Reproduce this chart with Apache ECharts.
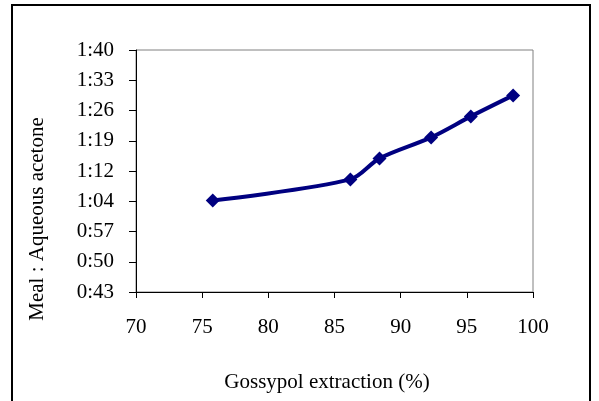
<!DOCTYPE html>
<html>
<head>
    <meta charset="utf-8">
    <title>Meal : Aqueous acetone</title>
    <script src="https://cdn.jsdelivr.net/npm/echarts@6/dist/echarts.min.js"></script>
</head>
<body style="margin:0">
    <div id="main" style="width:599px; height:401px"></div>
    <script type="text/javascript">
        // gossypol extraction (%) vs ratio, ratio stored as minutes (Excel time 1:05 = 65)
        var extraction = [75.8, 86.2, 88.4, 92.3, 95.3, 98.5];
        var ratioMinutes = [65, 70, 75, 80, 85, 90];
        var yTickLabels = ['0:43', '0:50', '0:57', '1:04', '1:12', '1:19', '1:26', '1:33', '1:40'];
        var xTickLabels = [70, 75, 80, 85, 90, 95, 100];

        var yMin = 43.2, yStep = 7.2;
        var font = '"Liberation Serif", "Times New Roman", serif';

        var points = extraction.map(function (x, i) { return [x, ratioMinutes[i]]; });

        var myChart = echarts.init(document.getElementById('main'));

        var option = {
            animation: false,
            backgroundColor: '#fff',
            grid: {
                left: 136,
                right: 66,
                top: 50,
                bottom: 109,
                show: true,
                borderColor: '#808080',
                borderWidth: 1
            },
            xAxis: {
                type: 'value',
                min: xTickLabels[0],
                max: xTickLabels[xTickLabels.length - 1],
                interval: 5,
                axisLine: { lineStyle: { color: '#000', width: 1 } },
                axisTick: { show: true, length: 6, lineStyle: { color: '#000' } },
                axisLabel: { color: '#000', fontFamily: font, fontSize: 21, margin: 25 },
                splitLine: { show: false }
            },
            yAxis: {
                type: 'value',
                min: yMin,
                max: yMin + yStep * (yTickLabels.length - 1),
                interval: yStep,
                axisLine: { show: true, lineStyle: { color: '#000', width: 1 } },
                axisTick: { show: true, length: 7, lineStyle: { color: '#000' } },
                axisLabel: {
                    color: '#000', fontFamily: font, fontSize: 21, margin: 22,
                    formatter: function (v) {
                        return yTickLabels[Math.round((v - yMin) / yStep)];
                    }
                },
                splitLine: { show: false }
            },
            graphic: [
                {
                    type: 'rect',
                    shape: { x: 12, y: 5, width: 578, height: 400 },
                    style: { fill: null, stroke: '#000', lineWidth: 2 },
                    silent: true
                },
                {
                    type: 'text',
                    x: 37, y: 219,
                    rotation: Math.PI / 2,
                    style: {
                        text: 'Meal : Aqueous acetone',
                        fontFamily: font, fontSize: 21, fill: '#000',
                        align: 'center', verticalAlign: 'middle'
                    }
                },
                {
                    type: 'text',
                    x: 327, y: 382,
                    style: {
                        text: 'Gossypol extraction (%)',
                        fontFamily: font, fontSize: 21, fill: '#000',
                        align: 'center', verticalAlign: 'middle'
                    }
                }
            ],
            series: [
                {
                    type: 'line',
                    data: points,
                    smooth: 0.3,
                    symbol: 'diamond',
                    symbolSize: 14,
                    lineStyle: { color: '#000080', width: 4 },
                    itemStyle: { color: '#000080' }
                }
            ]
        };

        myChart.setOption(option);
    </script>
</body>
</html>
